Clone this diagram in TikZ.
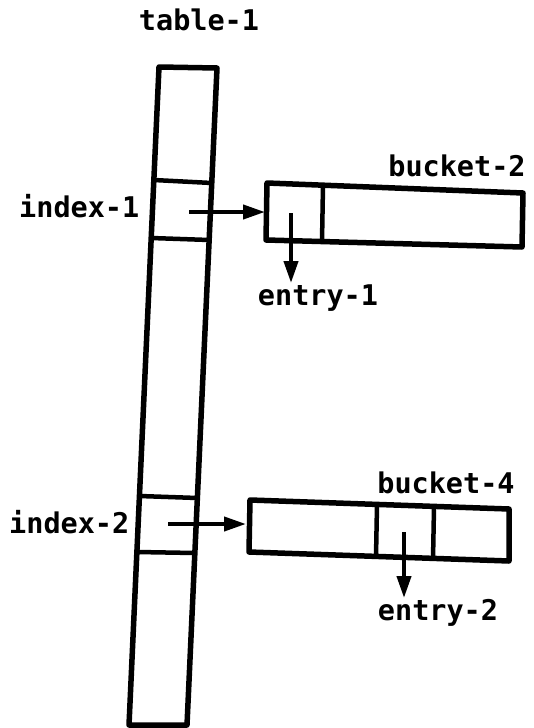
\documentclass[tikz,border=0pt]{standalone}
\usepackage{fontspec}
\setmonofont{DejaVu Sans Mono}
\usetikzlibrary{arrows.meta}
\tikzset{
  box/.style={line width=5.5pt, line join=round},
  divider/.style={line width=4.5pt},
  ptr/.style={line width=4pt, -{Triangle[length=22pt,width=14pt]}},
  lbl/.style={font=\ttfamily\bfseries\fontsize{28.5}{31}\selectfont, inner sep=0pt}
}
\begin{document}
\begin{tikzpicture}[x=1pt,y=-1pt]
\useasboundingbox (0,0) rectangle (534,728);
% table column
\coordinate (ttl) at (159,67);
\coordinate (ttr) at (217,68);
\coordinate (tbr) at (187,725);
\coordinate (tbl) at (129,725);
\draw[box] (ttl) -- (ttr) -- (tbr) -- (tbl) -- cycle;
% cell dividers
\draw[divider] (153.8,180) -- (211.8,183);
\draw[divider] (151.2,238) -- (209.2,240);
\draw[divider] (139.4,496) -- (197.4,498);
\draw[divider] (136.9,552) -- (194.9,553);
% bucket-2
\coordinate (b2tl) at (267,183);
\coordinate (b2tr) at (523,193);
\coordinate (b2br) at (522,247);
\coordinate (b2bl) at (266,240);
\draw[box] (b2tl) -- (b2tr) -- (b2br) -- (b2bl) -- cycle;
\draw[divider] (323,185) -- (322,242);
% bucket-4
\coordinate (b4tl) at (250,500);
\coordinate (b4tr) at (509,509);
\coordinate (b4br) at (509,561);
\coordinate (b4bl) at (249,552);
\draw[box] (b4tl) -- (b4tr) -- (b4br) -- (b4bl) -- cycle;
\draw[divider] (377,505) -- (376,557);
\draw[divider] (434,507) -- (433,560);
% labels
\node[lbl] (table1) at (199,20) {table-1};
\node[lbl, anchor=west] (index1) at (19,206) {index-1};
\node[lbl] (bucket2) at (457,166) {bucket-2};
\node[lbl] (entry1) at (318,298) {entry-1};
\node[lbl, anchor=west] (index2) at (9,522) {index-2};
\node[lbl] (bucket4) at (446,483) {bucket-4};
\node[lbl] (entry2) at (438,613) {entry-2};
% pointer endpoints
\coordinate (p1s) at (189,212);
\coordinate (p1e) at (265,212);
\coordinate (e1s) at (291,213);
\coordinate (e1e) at (291,283);
\coordinate (p2s) at (168,524);
\coordinate (p2e) at (246,524);
\coordinate (e2s) at (404,532);
\coordinate (e2e) at (404,598);
\draw[ptr] (p1s) -- (p1e);
\draw[ptr] (e1s) -- (e1e);
\draw[ptr] (p2s) -- (p2e);
\draw[ptr] (e2s) -- (e2e);
\end{tikzpicture}
\end{document}
